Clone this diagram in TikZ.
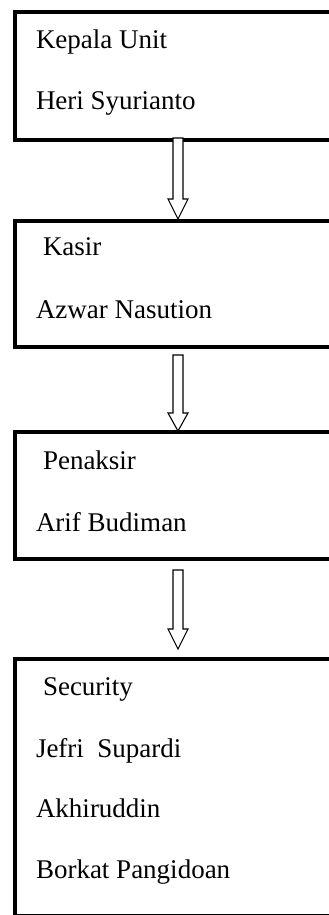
\documentclass[tikz,border=0pt]{standalone}
\usepackage{fontspec}
\setmainfont{Liberation Serif}
\usetikzlibrary{calc}
\tikzset{
  orgbox/.style={draw=black, line width=4pt, fill=none, rectangle, inner sep=0pt, outer sep=0pt, anchor=north west, minimum width=340pt},
  lbl/.style={anchor=base west, inner sep=0pt, outer sep=0pt, font=\fontsize{27}{32}\selectfont},
  blockarrow/.style={draw=black, line width=1.1pt, fill=white, line join=miter}
}
\newcommand{\downblock}[3]{%
  \path[blockarrow] let \p1=(#1), \p2=(#2) in
    (\x1-5pt,\y1) -- (\x1-5pt,\y2+#3) -- (\x1-10pt,\y2+#3) -- (\x1,\y2)
    -- (\x1+10pt,\y2+#3) -- (\x1+5pt,\y2+#3) -- (\x1+5pt,\y1) -- cycle;}
\begin{document}
\begin{tikzpicture}[x=1pt,y=-1pt]
\useasboundingbox (0,0) rectangle (329,915);
\clip (0,0) rectangle (329,915);
\fill[white] (0,0) rectangle (329,915);
% boxes
\node[orgbox, minimum height=128pt] (b1) at (15,12) {};
\node[orgbox, minimum height=126pt] (b2) at (15,221) {};
\node[orgbox, minimum height=127pt] (b3) at (15,432) {};
\node[orgbox, minimum height=257pt] (b4) at (15,659) {};
% texts
\node[lbl] (t1a) at (36,49) {Kepala Unit};
\node[lbl] (t1b) at (36,110) {Heri Syurianto};
\node[lbl] (t2a) at (43,255) {Kasir};
\node[lbl] (t2b) at (36,318) {Azwar Nasution};
\node[lbl] (t3a) at (43,469) {Penaksir};
\node[lbl] (t3b) at (36,531) {Arif Budiman};
\node[lbl] (t4a) at (43,695) {Security};
\node[lbl] (t4b) at (36,757) {Jefri\ \ Supardi};
\node[lbl] (t4c) at (36,817) {Akhiruddin};
\node[lbl] (t4d) at (36,878) {Borkat Pangidoan};
% arrow end points
\coordinate (a1s) at ([xshift=163pt,yshift=2pt]b1.south west);
\coordinate (a1e) at ([xshift=163pt,yshift=2pt]b2.north west);
\coordinate (a2s) at ([xshift=163pt,yshift=-8pt]b2.south west);
\coordinate (a2e) at ([xshift=163pt,yshift=1pt]b3.north west);
\coordinate (a3s) at ([xshift=163pt,yshift=-11pt]b3.south west);
\coordinate (a3e) at ([xshift=163pt,yshift=10pt]b4.north west);
\downblock{a1s}{a1e}{20pt}
\downblock{a2s}{a2e}{18pt}
\downblock{a3s}{a3e}{20pt}
\end{tikzpicture}
\end{document}
